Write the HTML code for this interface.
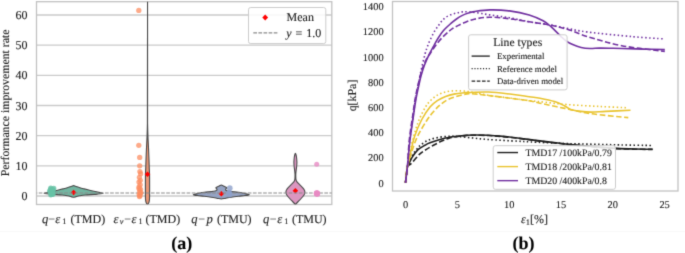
<!DOCTYPE html><html><head><meta charset="utf-8"><style>
html,body{margin:0;padding:0;background:#fff;}
body{width:685px;height:253px;overflow:hidden;}
svg{display:block;}
text{font-family:"Liberation Serif",serif;text-rendering:geometricPrecision;fill:#222222;stroke:#222222;stroke-width:0.12px;}
</style></head><body>
<svg width="685" height="253" viewBox="0 0 685 253">
<defs><filter id="soft" filterUnits="userSpaceOnUse" x="0" y="0" width="685" height="253" color-interpolation-filters="sRGB"><feConvolveMatrix order="3" kernelMatrix="1 6 1 6 36 6 1 6 1" divisor="64" edgeMode="duplicate"/></filter></defs>
<g filter="url(#soft)"><rect x="0" y="0" width="685" height="253" fill="#fff"/>

<defs><clipPath id="cl"><rect x="36.5" y="1.7" width="295.3" height="202.8"/></clipPath><clipPath id="cr"><rect x="392.5" y="1.5" width="285.5" height="189.5"/></clipPath></defs>
<line x1="36.5" y1="196.00" x2="331.8" y2="196.00" stroke="#cacaca" stroke-width="1.3"/>
<text x="27.6" y="200.10" font-size="12" text-anchor="end">0</text>
<line x1="36.5" y1="165.83" x2="331.8" y2="165.83" stroke="#cacaca" stroke-width="1.3"/>
<text x="27.6" y="169.93" font-size="12" text-anchor="end">10</text>
<line x1="36.5" y1="135.66" x2="331.8" y2="135.66" stroke="#cacaca" stroke-width="1.3"/>
<text x="27.6" y="139.76" font-size="12" text-anchor="end">20</text>
<line x1="36.5" y1="105.49" x2="331.8" y2="105.49" stroke="#cacaca" stroke-width="1.3"/>
<text x="27.6" y="109.59" font-size="12" text-anchor="end">30</text>
<line x1="36.5" y1="75.32" x2="331.8" y2="75.32" stroke="#cacaca" stroke-width="1.3"/>
<text x="27.6" y="79.42" font-size="12" text-anchor="end">40</text>
<line x1="36.5" y1="45.15" x2="331.8" y2="45.15" stroke="#cacaca" stroke-width="1.3"/>
<text x="27.6" y="49.25" font-size="12" text-anchor="end">50</text>
<line x1="36.5" y1="14.98" x2="331.8" y2="14.98" stroke="#cacaca" stroke-width="1.3"/>
<text x="27.6" y="19.08" font-size="12" text-anchor="end">60</text>
<rect x="36.5" y="1.7" width="295.3" height="202.8" fill="none" stroke="#c2c2c2" stroke-width="1.3"/>
<g clip-path="url(#cl)"><path d="M73.60,185.50 C73.83,185.50 73.88,185.67 74.30,185.85 C74.72,186.03 75.17,186.27 76.10,186.60 C77.03,186.93 78.55,187.42 79.90,187.80 C81.25,188.18 82.58,188.50 84.20,188.90 C85.82,189.30 87.78,189.77 89.60,190.20 C91.42,190.63 93.35,191.10 95.10,191.50 C96.85,191.90 98.92,192.33 100.10,192.60 C101.28,192.87 101.72,192.98 102.20,193.10 C102.68,193.22 103.00,193.23 103.00,193.30 C103.00,193.37 103.02,193.38 102.20,193.50 C101.38,193.62 99.45,193.85 98.10,194.00 C96.75,194.15 96.27,194.23 94.10,194.40 C91.93,194.57 87.52,194.77 85.10,195.00 C82.68,195.23 81.10,195.53 79.60,195.80 C78.10,196.07 77.10,196.35 76.10,196.60 C75.10,196.85 74.43,197.30 73.60,197.30 C72.77,197.30 72.10,196.85 71.10,196.60 C70.10,196.35 69.10,196.07 67.60,195.80 C66.10,195.53 64.52,195.23 62.10,195.00 C59.68,194.77 55.27,194.57 53.10,194.40 C50.93,194.23 50.45,194.15 49.10,194.00 C47.75,193.85 45.82,193.62 45.00,193.50 C44.18,193.38 44.20,193.37 44.20,193.30 C44.20,193.23 44.52,193.22 45.00,193.10 C45.48,192.98 45.92,192.87 47.10,192.60 C48.28,192.33 50.35,191.90 52.10,191.50 C53.85,191.10 55.78,190.63 57.60,190.20 C59.42,189.77 61.38,189.30 63.00,188.90 C64.62,188.50 65.95,188.18 67.30,187.80 C68.65,187.42 70.17,186.93 71.10,186.60 C72.03,186.27 72.48,186.03 72.90,185.85 C73.32,185.67 73.37,185.50 73.60,185.50Z" fill="rgb(114,182,161)" stroke="#4a4a4a" stroke-width="1.1"/><path d="M147.55,0.00 C147.57,0.00 147.56,89.17 147.57,110.00 C147.58,130.83 147.56,120.83 147.62,125.00 C147.68,129.17 147.82,132.50 147.90,135.00 C147.98,137.50 147.98,137.50 148.10,140.00 C148.22,142.50 148.45,146.67 148.60,150.00 C148.75,153.33 148.89,157.00 149.00,160.00 C149.11,163.00 149.16,165.50 149.25,168.00 C149.34,170.50 149.49,171.33 149.55,175.00 C149.61,178.67 149.61,186.00 149.60,190.00 C149.59,194.00 149.62,196.92 149.50,199.00 C149.38,201.08 149.23,201.62 148.90,202.50 C148.57,203.38 147.97,204.30 147.50,204.30 C147.03,204.30 146.43,203.38 146.10,202.50 C145.77,201.62 145.62,201.08 145.50,199.00 C145.38,196.92 145.41,194.00 145.40,190.00 C145.39,186.00 145.39,178.67 145.45,175.00 C145.51,171.33 145.66,170.50 145.75,168.00 C145.84,165.50 145.89,163.00 146.00,160.00 C146.11,157.00 146.25,153.33 146.40,150.00 C146.55,146.67 146.78,142.50 146.90,140.00 C147.02,137.50 147.02,137.50 147.10,135.00 C147.18,132.50 147.32,129.17 147.38,125.00 C147.44,120.83 147.40,130.83 147.43,110.00 C147.46,89.17 147.53,0.00 147.55,0.00Z" fill="rgb(233,150,117)" stroke="#4a4a4a" stroke-width="1.1"/><path d="M221.30,185.00 C221.63,185.00 221.95,185.29 222.30,185.45 C222.65,185.61 223.03,185.77 223.40,185.95 C223.77,186.12 224.12,186.31 224.50,186.50 C224.88,186.69 225.35,186.92 225.70,187.10 C226.05,187.28 226.43,187.43 226.60,187.60 C226.77,187.77 226.80,187.90 226.70,188.10 C226.60,188.30 226.18,188.55 226.00,188.80 C225.82,189.05 225.58,189.33 225.60,189.60 C225.62,189.87 225.78,190.17 226.10,190.40 C226.42,190.63 226.63,190.80 227.50,191.00 C228.37,191.20 229.48,191.38 231.30,191.60 C233.12,191.82 236.23,192.00 238.40,192.30 C240.57,192.60 242.68,193.07 244.30,193.40 C245.92,193.73 247.27,194.08 248.10,194.30 C248.93,194.52 249.30,194.57 249.30,194.70 C249.30,194.83 249.10,194.93 248.10,195.10 C247.10,195.27 244.92,195.50 243.30,195.70 C241.68,195.90 240.40,196.03 238.40,196.30 C236.40,196.57 233.40,196.98 231.30,197.30 C229.20,197.62 227.47,197.92 225.80,198.20 C224.13,198.48 222.80,199.00 221.30,199.00 C219.80,199.00 218.47,198.48 216.80,198.20 C215.13,197.92 213.40,197.62 211.30,197.30 C209.20,196.98 206.20,196.57 204.20,196.30 C202.20,196.03 200.92,195.90 199.30,195.70 C197.68,195.50 195.50,195.27 194.50,195.10 C193.50,194.93 193.30,194.83 193.30,194.70 C193.30,194.57 193.67,194.52 194.50,194.30 C195.33,194.08 196.68,193.73 198.30,193.40 C199.92,193.07 202.03,192.60 204.20,192.30 C206.37,192.00 209.48,191.82 211.30,191.60 C213.12,191.38 214.23,191.20 215.10,191.00 C215.97,190.80 216.18,190.63 216.50,190.40 C216.82,190.17 216.98,189.87 217.00,189.60 C217.02,189.33 216.78,189.05 216.60,188.80 C216.42,188.55 216.00,188.30 215.90,188.10 C215.80,187.90 215.83,187.77 216.00,187.60 C216.17,187.43 216.55,187.28 216.90,187.10 C217.25,186.92 217.72,186.69 218.10,186.50 C218.48,186.31 218.83,186.12 219.20,185.95 C219.57,185.77 219.95,185.61 220.30,185.45 C220.65,185.29 220.97,185.00 221.30,185.00Z" fill="rgb(149,163,195)" stroke="#4a4a4a" stroke-width="1.1"/><path d="M295.40,153.40 C295.63,153.40 295.90,154.23 296.10,155.00 C296.30,155.77 296.47,156.83 296.60,158.00 C296.73,159.17 296.88,160.67 296.90,162.00 C296.92,163.33 296.82,164.67 296.70,166.00 C296.58,167.33 296.35,168.67 296.20,170.00 C296.05,171.33 295.87,172.83 295.80,174.00 C295.73,175.17 295.77,176.07 295.80,177.00 C295.83,177.93 295.80,178.78 296.00,179.60 C296.20,180.42 296.35,181.02 297.00,181.90 C297.65,182.78 298.93,183.90 299.90,184.90 C300.87,185.90 302.07,187.05 302.80,187.90 C303.53,188.75 303.97,189.42 304.30,190.00 C304.63,190.58 304.73,190.87 304.80,191.40 C304.87,191.93 304.83,192.60 304.70,193.20 C304.57,193.80 304.60,194.12 304.00,195.00 C303.40,195.88 302.07,197.42 301.10,198.50 C300.13,199.58 299.00,200.67 298.20,201.50 C297.40,202.33 296.77,203.00 296.30,203.50 C295.83,204.00 295.70,204.50 295.40,204.50 C295.10,204.50 294.97,204.00 294.50,203.50 C294.03,203.00 293.40,202.33 292.60,201.50 C291.80,200.67 290.67,199.58 289.70,198.50 C288.73,197.42 287.40,195.88 286.80,195.00 C286.20,194.12 286.23,193.80 286.10,193.20 C285.97,192.60 285.93,191.93 286.00,191.40 C286.07,190.87 286.17,190.58 286.50,190.00 C286.83,189.42 287.27,188.75 288.00,187.90 C288.73,187.05 289.93,185.90 290.90,184.90 C291.87,183.90 293.15,182.78 293.80,181.90 C294.45,181.02 294.60,180.42 294.80,179.60 C295.00,178.78 294.97,177.93 295.00,177.00 C295.03,176.07 295.07,175.17 295.00,174.00 C294.93,172.83 294.75,171.33 294.60,170.00 C294.45,168.67 294.22,167.33 294.10,166.00 C293.98,164.67 293.88,163.33 293.90,162.00 C293.92,160.67 294.07,159.17 294.20,158.00 C294.33,156.83 294.50,155.77 294.70,155.00 C294.90,154.23 295.17,153.40 295.40,153.40Z" fill="rgb(219,150,192)" stroke="#4a4a4a" stroke-width="1.1"/><path d="M73.60,189.65L76.35,192.40L73.60,195.15L70.85,192.40Z" fill="#ff0000"/><path d="M147.50,171.55L150.25,174.30L147.50,177.05L144.75,174.30Z" fill="#ff0000"/><path d="M221.30,190.95L224.05,193.70L221.30,196.45L218.55,193.70Z" fill="#ff0000"/><path d="M295.40,187.95L298.15,190.70L295.40,193.45L292.65,190.70Z" fill="#ff0000"/><line x1="36.5" y1="192.98" x2="331.8" y2="192.98" stroke="#8a8a8a" stroke-width="1.2" stroke-dasharray="3.7,1.4" stroke-dashoffset="-2.2"/><circle cx="50.75" cy="194.79" r="2.60" fill="rgb(102,194,165)" fill-opacity="0.80"/><circle cx="51.98" cy="194.49" r="2.60" fill="rgb(102,194,165)" fill-opacity="0.80"/><circle cx="51.28" cy="193.59" r="2.60" fill="rgb(102,194,165)" fill-opacity="0.80"/><circle cx="52.22" cy="192.98" r="2.60" fill="rgb(102,194,165)" fill-opacity="0.80"/><circle cx="52.30" cy="192.38" r="2.60" fill="rgb(102,194,165)" fill-opacity="0.80"/><circle cx="50.06" cy="191.47" r="2.60" fill="rgb(102,194,165)" fill-opacity="0.80"/><circle cx="49.85" cy="190.57" r="2.60" fill="rgb(102,194,165)" fill-opacity="0.80"/><circle cx="53.15" cy="189.97" r="2.60" fill="rgb(102,194,165)" fill-opacity="0.80"/><circle cx="50.84" cy="189.06" r="2.60" fill="rgb(102,194,165)" fill-opacity="0.80"/><circle cx="50.74" cy="188.16" r="2.60" fill="rgb(102,194,165)" fill-opacity="0.80"/><circle cx="53.78" cy="188.46" r="2.60" fill="rgb(102,194,165)" fill-opacity="0.80"/><circle cx="51.68" cy="194.19" r="2.60" fill="rgb(102,194,165)" fill-opacity="0.80"/><circle cx="53.15" cy="193.89" r="2.60" fill="rgb(102,194,165)" fill-opacity="0.80"/><circle cx="51.71" cy="193.28" r="2.60" fill="rgb(102,194,165)" fill-opacity="0.80"/><circle cx="52.36" cy="192.68" r="2.60" fill="rgb(102,194,165)" fill-opacity="0.80"/><circle cx="50.40" cy="191.78" r="2.60" fill="rgb(102,194,165)" fill-opacity="0.80"/><circle cx="52.34" cy="189.36" r="2.60" fill="rgb(102,194,165)" fill-opacity="0.80"/><circle cx="138.80" cy="10.45" r="2.65" fill="rgb(252,141,98)" fill-opacity="0.75"/><circle cx="138.80" cy="145.31" r="2.65" fill="rgb(252,141,98)" fill-opacity="0.75"/><circle cx="139.70" cy="157.38" r="2.65" fill="rgb(252,141,98)" fill-opacity="0.75"/><circle cx="139.70" cy="165.83" r="2.65" fill="rgb(252,141,98)" fill-opacity="0.75"/><circle cx="139.90" cy="171.56" r="2.65" fill="rgb(252,141,98)" fill-opacity="0.75"/><circle cx="140.60" cy="173.67" r="2.65" fill="rgb(252,141,98)" fill-opacity="0.75"/><circle cx="139.40" cy="177.29" r="2.65" fill="rgb(252,141,98)" fill-opacity="0.75"/><circle cx="140.30" cy="180.31" r="2.65" fill="rgb(252,141,98)" fill-opacity="0.75"/><circle cx="139.00" cy="182.12" r="2.65" fill="rgb(252,141,98)" fill-opacity="0.75"/><circle cx="140.20" cy="184.84" r="2.65" fill="rgb(252,141,98)" fill-opacity="0.75"/><circle cx="139.10" cy="186.95" r="2.65" fill="rgb(252,141,98)" fill-opacity="0.75"/><circle cx="140.50" cy="189.36" r="2.65" fill="rgb(252,141,98)" fill-opacity="0.75"/><circle cx="139.60" cy="191.17" r="2.65" fill="rgb(252,141,98)" fill-opacity="0.75"/><circle cx="140.40" cy="193.28" r="2.65" fill="rgb(252,141,98)" fill-opacity="0.75"/><circle cx="139.20" cy="194.49" r="2.65" fill="rgb(252,141,98)" fill-opacity="0.75"/><circle cx="140.00" cy="195.70" r="2.65" fill="rgb(252,141,98)" fill-opacity="0.75"/><circle cx="139.50" cy="196.60" r="2.65" fill="rgb(252,141,98)" fill-opacity="0.75"/><circle cx="140.80" cy="192.38" r="2.65" fill="rgb(252,141,98)" fill-opacity="0.75"/><circle cx="139.00" cy="188.46" r="2.65" fill="rgb(252,141,98)" fill-opacity="0.75"/><circle cx="229.80" cy="188.16" r="2.80" fill="rgb(141,160,203)" fill-opacity="0.80"/><circle cx="229.05" cy="193.28" r="2.60" fill="rgb(141,160,203)" fill-opacity="0.80"/><circle cx="229.48" cy="194.79" r="2.60" fill="rgb(141,160,203)" fill-opacity="0.80"/><circle cx="229.34" cy="192.38" r="2.60" fill="rgb(141,160,203)" fill-opacity="0.80"/><circle cx="316.70" cy="164.32" r="2.50" fill="rgb(231,138,195)" fill-opacity="0.80"/><circle cx="317.15" cy="193.74" r="3.00" fill="rgb(231,138,195)" fill-opacity="0.85"/><circle cx="317.05" cy="193.44" r="3.00" fill="rgb(231,138,195)" fill-opacity="0.85"/><circle cx="316.88" cy="193.59" r="3.00" fill="rgb(231,138,195)" fill-opacity="0.85"/><circle cx="316.72" cy="193.28" r="3.00" fill="rgb(231,138,195)" fill-opacity="0.85"/></g>
<rect x="248.5" y="7.5" width="77.3" height="36.1" rx="2.2" fill="#fff" fill-opacity="0.85" stroke="#cccccc" stroke-width="1"/>
<path d="M265.20,14.60L268.10,17.50L265.20,20.40L262.30,17.50Z" fill="#ff0000"/>
<text x="286.6" y="21.0" font-size="12">Mean</text>
<line x1="253.3" y1="32.9" x2="277.4" y2="32.9" stroke="#8a8a8a" stroke-width="1.2" stroke-dasharray="3.7,1.4"/>
<text x="286.2" y="36.8" font-size="12" font-style="italic">y</text><text x="295.4" y="36.8" font-size="12">=</text><text x="306.3" y="36.8" font-size="12">1.0</text>
<text x="42.00" y="222.80" font-size="12.6" font-style="italic">q</text><text x="48.20" y="222.80" font-size="12.0">−</text><text x="55.20" y="222.80" font-size="12.6" font-style="italic">ε</text><text x="62.30" y="224.30" font-size="8.2">1</text><text x="70.50" y="222.80" font-size="12.0">(TMD)</text>
<text x="113.40" y="222.80" font-size="12.6" font-style="italic">ε</text><text x="119.80" y="224.30" font-size="8.2" font-style="italic">v</text><text x="124.20" y="222.80" font-size="12.0">−</text><text x="131.50" y="222.80" font-size="12.6" font-style="italic">ε</text><text x="138.40" y="224.30" font-size="8.2">1</text><text x="145.50" y="222.80" font-size="12.0">(TMD)</text>
<text x="191.30" y="222.80" font-size="12.6" font-style="italic">q</text><text x="198.30" y="222.80" font-size="12.0">−</text><text x="206.40" y="222.80" font-size="12.6" font-style="italic">p</text><text x="216.90" y="222.80" font-size="12.0">(TMU)</text>
<text x="263.00" y="222.80" font-size="12.6" font-style="italic">q</text><text x="269.70" y="222.80" font-size="12.0">−</text><text x="277.30" y="222.80" font-size="12.6" font-style="italic">ε</text><text x="284.20" y="224.30" font-size="8.2">1</text><text x="291.90" y="222.80" font-size="12.0">(TMU)</text>
<text transform="translate(9.2,102.9) rotate(-90)" font-size="11.8" text-anchor="middle">Performance improvement rate</text>
<text x="181.8" y="249.0" font-size="18" font-weight="bold" text-anchor="middle" style="fill:#000">(a)</text>
<line x1="0" y1="231.3" x2="685" y2="231.3" stroke="#f8f8f8" stroke-width="1"/>
<rect x="392.5" y="1.5" width="285.5" height="189.5" fill="none" stroke="#c2c2c2" stroke-width="1.3"/>
<text x="383.6" y="186.50" font-size="10.4" text-anchor="end">0</text>
<text x="383.6" y="161.30" font-size="10.4" text-anchor="end">200</text>
<text x="383.6" y="136.10" font-size="10.4" text-anchor="end">400</text>
<text x="383.6" y="110.90" font-size="10.4" text-anchor="end">600</text>
<text x="383.6" y="85.70" font-size="10.4" text-anchor="end">800</text>
<text x="383.6" y="60.50" font-size="10.4" text-anchor="end">1000</text>
<text x="383.6" y="35.30" font-size="10.4" text-anchor="end">1200</text>
<text x="383.6" y="10.10" font-size="10.4" text-anchor="end">1400</text>
<text x="405.50" y="208.0" font-size="10.4" text-anchor="middle">0</text>
<text x="457.32" y="208.0" font-size="10.4" text-anchor="middle">5</text>
<text x="509.14" y="208.0" font-size="10.4" text-anchor="middle">10</text>
<text x="560.96" y="208.0" font-size="10.4" text-anchor="middle">15</text>
<text x="612.78" y="208.0" font-size="10.4" text-anchor="middle">20</text>
<text x="664.60" y="208.0" font-size="10.4" text-anchor="middle">25</text>
<text x="534.5" y="223" font-size="12" text-anchor="middle"><tspan font-style="italic">ε</tspan><tspan font-size="8.5" dy="2">1</tspan><tspan dy="-2">[%]</tspan></text>
<text transform="translate(355.6,95.5) rotate(-90)" font-size="11.9" text-anchor="middle">q[kPa]</text>
<text x="523.4" y="249.0" font-size="18" font-weight="bold" text-anchor="middle" style="fill:#000">(b)</text>
<g clip-path="url(#cr)"><path d="M405.50,182.60 C405.82,180.00 406.73,170.35 407.40,167.00 C408.07,163.65 408.67,164.18 409.50,162.50 C410.33,160.82 411.02,159.02 412.40,156.90 C413.78,154.78 415.72,151.73 417.80,149.80 C419.88,147.87 422.87,146.47 424.90,145.30 C426.93,144.13 426.72,143.98 430.00,142.80 C433.28,141.62 439.73,139.33 444.60,138.20 C449.47,137.07 454.33,136.53 459.20,136.00 C464.07,135.47 468.93,135.12 473.80,135.00 C478.67,134.88 483.53,135.07 488.40,135.30 C493.27,135.53 498.13,135.95 503.00,136.40 C507.87,136.85 513.10,137.47 517.60,138.00 C522.10,138.53 526.27,139.12 530.00,139.60 C533.73,140.08 535.00,140.28 540.00,140.90 C545.00,141.52 554.83,142.68 560.00,143.30 C565.17,143.92 564.33,143.95 571.00,144.60 C577.67,145.25 592.50,146.57 600.00,147.20 C607.50,147.83 610.17,148.10 616.00,148.40 C621.83,148.70 628.90,148.87 635.00,149.00 C641.10,149.13 649.67,149.17 652.60,149.20" fill="none" stroke="rgb(30,30,30)" stroke-width="1.6" /><path d="M405.50,182.60 C405.82,180.00 406.70,170.60 407.40,167.00 C408.10,163.40 408.77,163.12 409.70,161.00 C410.63,158.88 411.85,156.23 413.00,154.30 C414.15,152.37 415.30,150.97 416.60,149.40 C417.90,147.83 418.75,146.48 420.80,144.90 C422.85,143.32 425.70,141.18 428.90,139.90 C432.10,138.62 436.35,137.82 440.00,137.20 C443.65,136.58 447.60,136.30 450.80,136.20 C454.00,136.10 455.50,136.30 459.20,136.60 C462.90,136.90 468.13,137.52 473.00,138.00 C477.87,138.48 480.97,138.97 488.40,139.50 C495.83,140.03 510.67,140.80 517.60,141.20 C524.53,141.60 522.93,141.55 530.00,141.90 C537.07,142.25 552.50,142.98 560.00,143.30 C567.50,143.62 568.33,143.62 575.00,143.80 C581.67,143.98 592.50,144.22 600.00,144.40 C607.50,144.58 611.40,144.72 620.00,144.90 C628.60,145.08 646.33,145.40 651.60,145.50" fill="none" stroke="rgb(30,30,30)" stroke-width="1.6" stroke-dasharray="1.5,2.45"/><path d="M405.50,182.60 C405.82,180.00 406.73,169.93 407.40,167.00 C408.07,164.07 408.67,165.78 409.50,165.00 C410.33,164.22 410.72,164.10 412.40,162.30 C414.08,160.50 417.33,156.32 419.60,154.20 C421.87,152.08 423.77,151.05 426.00,149.60 C428.23,148.15 430.38,146.92 433.00,145.50 C435.62,144.08 439.03,142.32 441.70,141.10 C444.37,139.88 446.08,139.00 449.00,138.20 C451.92,137.40 455.70,136.78 459.20,136.30 C462.70,135.82 465.13,135.43 470.00,135.30 C474.87,135.17 482.90,135.28 488.40,135.50 C493.90,135.72 498.13,136.15 503.00,136.60 C507.87,137.05 513.10,137.67 517.60,138.20 C522.10,138.73 526.27,139.32 530.00,139.80 C533.73,140.28 535.00,140.48 540.00,141.10 C545.00,141.72 554.83,142.88 560.00,143.50 C565.17,144.12 564.33,144.15 571.00,144.80 C577.67,145.45 592.50,146.77 600.00,147.40 C607.50,148.03 610.17,148.30 616.00,148.60 C621.83,148.90 628.90,149.07 635.00,149.20 C641.10,149.33 649.67,149.37 652.60,149.40" fill="none" stroke="rgb(30,30,30)" stroke-width="1.6" stroke-dasharray="5.6,2.5"/><path d="M405.50,182.60 C405.82,180.00 406.55,172.02 407.40,167.00 C408.25,161.98 409.38,157.65 410.60,152.50 C411.82,147.35 412.83,141.60 414.70,136.10 C416.57,130.60 419.22,124.38 421.80,119.50 C424.38,114.62 427.62,109.95 430.20,106.80 C432.78,103.65 434.73,102.33 437.30,100.60 C439.87,98.87 442.63,97.52 445.60,96.40 C448.57,95.28 451.95,94.52 455.10,93.90 C458.25,93.28 458.95,93.02 464.50,92.70 C470.05,92.38 480.53,91.73 488.40,92.00 C496.27,92.27 504.90,93.52 511.70,94.30 C518.50,95.08 524.48,96.05 529.20,96.70 C533.92,97.35 535.77,97.38 540.00,98.20 C544.23,99.02 550.47,100.30 554.60,101.60 C558.73,102.90 562.12,104.70 564.80,106.00 C567.48,107.30 568.02,108.50 570.70,109.40 C573.38,110.30 577.50,110.95 580.90,111.40 C584.30,111.85 586.97,112.10 591.10,112.10 C595.23,112.10 599.13,111.70 605.70,111.40 C612.27,111.10 626.37,110.48 630.50,110.30" fill="none" stroke="rgb(233,196,48)" stroke-width="1.6" /><path d="M405.50,182.60 C405.82,180.00 406.62,172.18 407.40,167.00 C408.18,161.82 409.10,156.75 410.20,151.50 C411.30,146.25 412.57,140.67 414.00,135.50 C415.43,130.33 416.90,125.22 418.80,120.50 C420.70,115.78 423.45,110.52 425.40,107.20 C427.35,103.88 428.72,102.47 430.50,100.60 C432.28,98.73 433.98,97.33 436.10,96.00 C438.22,94.67 440.63,93.43 443.20,92.60 C445.77,91.77 448.53,91.28 451.50,91.00 C454.47,90.72 458.43,90.83 461.00,90.90 C463.57,90.97 464.57,91.12 466.90,91.40 C469.23,91.68 471.42,91.95 475.00,92.60 C478.58,93.25 482.28,94.35 488.40,95.30 C494.52,96.25 504.90,97.42 511.70,98.30 C518.50,99.18 523.65,99.95 529.20,100.60 C534.75,101.25 538.82,101.55 545.00,102.20 C551.18,102.85 557.40,103.80 566.30,104.50 C575.20,105.20 588.07,105.85 598.40,106.40 C608.73,106.95 623.32,107.57 628.30,107.80" fill="none" stroke="rgb(233,196,48)" stroke-width="1.6" stroke-dasharray="1.5,2.45"/><path d="M405.50,182.60 C405.82,180.00 406.45,171.85 407.40,167.00 C408.35,162.15 409.58,158.45 411.20,153.50 C412.82,148.55 414.53,142.77 417.10,137.30 C419.67,131.83 423.83,125.02 426.60,120.70 C429.37,116.38 431.47,114.02 433.70,111.40 C435.93,108.78 437.78,106.90 440.00,105.00 C442.22,103.10 444.48,101.35 447.00,100.00 C449.52,98.65 452.37,97.80 455.10,96.90 C457.83,96.00 460.92,95.15 463.40,94.60 C465.88,94.05 465.83,93.45 470.00,93.60 C474.17,93.75 481.45,94.70 488.40,95.50 C495.35,96.30 504.90,97.52 511.70,98.40 C518.50,99.28 524.48,100.00 529.20,100.80 C533.92,101.60 534.07,101.93 540.00,103.20 C545.93,104.47 556.28,106.65 564.80,108.40 C573.32,110.15 580.52,112.17 591.10,113.70 C601.68,115.23 622.10,116.95 628.30,117.60" fill="none" stroke="rgb(233,196,48)" stroke-width="1.6" stroke-dasharray="5.6,2.5"/><path d="M405.50,182.60 C405.82,180.00 406.65,174.10 407.40,167.00 C408.15,159.90 408.97,148.67 410.00,140.00 C411.03,131.33 412.63,121.67 413.60,115.00 C414.57,108.33 414.92,105.00 415.80,100.00 C416.68,95.00 418.03,89.00 418.90,85.00 C419.77,81.00 420.07,79.33 421.00,76.00 C421.93,72.67 423.12,68.65 424.50,65.00 C425.88,61.35 427.80,57.22 429.30,54.10 C430.80,50.98 432.02,48.98 433.50,46.30 C434.98,43.62 436.53,40.63 438.20,38.00 C439.87,35.37 441.43,32.88 443.50,30.50 C445.57,28.12 448.43,25.62 450.60,23.70 C452.77,21.78 454.53,20.38 456.50,19.00 C458.47,17.62 460.42,16.40 462.40,15.40 C464.38,14.40 466.42,13.63 468.40,13.00 C470.38,12.37 470.75,12.12 474.30,11.60 C477.85,11.08 483.83,10.02 489.70,9.90 C495.57,9.78 502.92,10.07 509.50,10.90 C516.08,11.73 523.60,13.25 529.20,14.90 C534.80,16.55 539.47,18.83 543.10,20.80 C546.73,22.77 548.05,24.12 551.00,26.70 C553.95,29.28 558.30,33.95 560.80,36.30 C563.30,38.65 564.02,39.42 566.00,40.80 C567.98,42.18 570.18,43.48 572.70,44.60 C575.22,45.72 578.22,46.85 581.10,47.50 C583.98,48.15 586.98,48.40 590.00,48.50 C593.02,48.60 595.87,48.15 599.20,48.10 C602.53,48.05 606.23,48.13 610.00,48.20 C613.77,48.27 616.07,48.35 621.80,48.50 C627.53,48.65 637.23,48.92 644.40,49.10 C651.57,49.28 661.40,49.52 664.80,49.60" fill="none" stroke="rgb(112,48,160)" stroke-width="1.6" /><path d="M405.50,182.60 C405.82,180.00 406.68,174.10 407.40,167.00 C408.12,159.90 408.82,148.67 409.80,140.00 C410.78,131.33 412.37,121.67 413.30,115.00 C414.23,108.33 414.57,105.00 415.40,100.00 C416.23,95.00 417.33,90.00 418.30,85.00 C419.27,80.00 420.05,75.25 421.20,70.00 C422.35,64.75 424.15,57.45 425.20,53.50 C426.25,49.55 426.62,48.68 427.50,46.30 C428.38,43.92 429.32,41.72 430.50,39.20 C431.68,36.68 433.33,33.40 434.60,31.20 C435.87,29.00 436.97,27.60 438.10,26.00 C439.23,24.40 440.25,22.95 441.40,21.60 C442.55,20.25 443.47,19.03 445.00,17.90 C446.53,16.77 448.68,15.62 450.60,14.80 C452.52,13.98 454.53,13.48 456.50,13.00 C458.47,12.52 460.23,12.08 462.40,11.90 C464.57,11.72 466.73,11.70 469.50,11.90 C472.27,12.10 475.63,12.60 479.00,13.10 C482.37,13.60 484.62,14.12 489.70,14.90 C494.78,15.68 502.92,16.65 509.50,17.80 C516.08,18.95 522.62,20.65 529.20,21.80 C535.78,22.95 542.42,23.55 549.00,24.70 C555.58,25.85 562.22,27.47 568.70,28.70 C575.18,29.93 577.17,30.77 587.90,32.10 C598.63,33.43 620.37,35.57 633.10,36.70 C645.83,37.83 659.10,38.53 664.30,38.90" fill="none" stroke="rgb(112,48,160)" stroke-width="1.6" stroke-dasharray="1.5,2.45"/><path d="M405.50,182.60 C405.82,180.00 406.77,174.10 407.40,167.00 C408.03,159.90 408.40,148.67 409.30,140.00 C410.20,131.33 411.85,121.67 412.80,115.00 C413.75,108.33 414.13,105.00 415.00,100.00 C415.87,95.00 416.85,90.00 418.00,85.00 C419.15,80.00 420.53,74.25 421.90,70.00 C423.27,65.75 424.77,62.33 426.20,59.50 C427.63,56.67 428.90,55.38 430.50,53.00 C432.10,50.62 433.92,47.70 435.80,45.20 C437.68,42.70 439.62,40.32 441.80,38.00 C443.98,35.68 447.13,32.87 448.90,31.30 C450.67,29.73 450.97,29.50 452.40,28.60 C453.83,27.70 455.43,26.92 457.50,25.90 C459.57,24.88 462.00,23.62 464.80,22.50 C467.60,21.38 470.15,20.08 474.30,19.20 C478.45,18.32 483.83,17.27 489.70,17.20 C495.57,17.13 502.92,18.03 509.50,18.80 C516.08,19.57 522.62,20.78 529.20,21.80 C535.78,22.82 542.42,23.58 549.00,24.90 C555.58,26.22 562.22,27.73 568.70,29.70 C575.18,31.67 579.05,34.03 587.90,36.70 C596.75,39.37 608.98,43.25 621.80,45.70 C634.62,48.15 657.63,50.45 664.80,51.40" fill="none" stroke="rgb(112,48,160)" stroke-width="1.6" stroke-dasharray="5.6,2.5"/></g>
<rect x="468.6" y="34.8" width="98.5" height="55.1" rx="2.2" fill="#fff" fill-opacity="0.85" stroke="#cccccc" stroke-width="1"/>
<text x="517.7" y="46.2" font-size="11.7" text-anchor="middle">Line types</text>
<line x1="471.6" y1="56.10" x2="489.8" y2="56.10" stroke="rgb(30,30,30)" stroke-width="1.3" />
<text x="497" y="59.20" font-size="8.8">Experimental</text>
<line x1="471.6" y1="68.65" x2="489.8" y2="68.65" stroke="rgb(30,30,30)" stroke-width="1.3" stroke-dasharray="1.1,1.75"/>
<text x="497" y="71.75" font-size="8.8">Reference model</text>
<line x1="471.6" y1="81.20" x2="489.8" y2="81.20" stroke="rgb(30,30,30)" stroke-width="1.3" stroke-dasharray="3.6,1.6"/>
<text x="497" y="84.30" font-size="8.8">Data-driven model</text>
<rect x="493.2" y="145.7" width="122.3" height="43.6" rx="2.2" fill="#fff" fill-opacity="0.85" stroke="#cccccc" stroke-width="1"/>
<line x1="497.3" y1="152.55" x2="518" y2="152.55" stroke="rgb(30,30,30)" stroke-width="1.4"/>
<text x="525.4" y="155.80" font-size="9.85">TMD17 /100kPa/0.79</text>
<line x1="497.3" y1="166.60" x2="518" y2="166.60" stroke="rgb(233,196,48)" stroke-width="1.4"/>
<text x="525.4" y="169.85" font-size="9.85">TMD18 /200kPa/0.81</text>
<line x1="497.3" y1="180.65" x2="518" y2="180.65" stroke="rgb(112,48,160)" stroke-width="1.4"/>
<text x="525.4" y="183.90" font-size="9.85">TMD20 /400kPa/0.8</text>
</g></svg></body></html>
